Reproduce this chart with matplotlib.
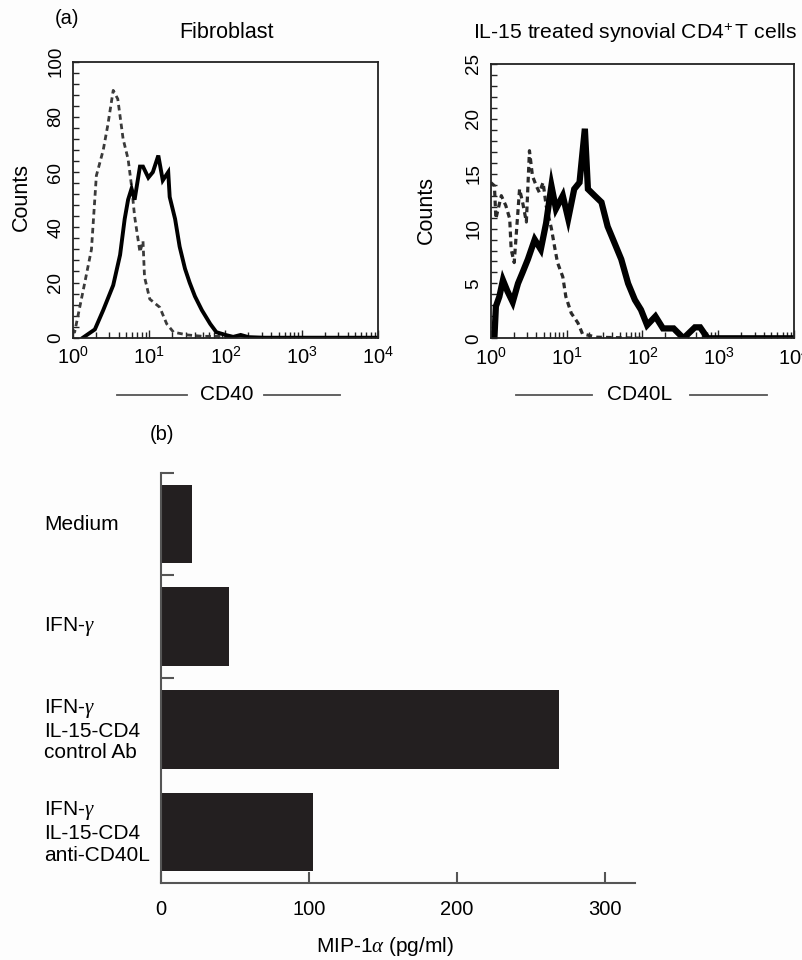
import numpy as np
import matplotlib.pyplot as plt
from matplotlib.lines import Line2D
from matplotlib.ticker import MultipleLocator, LogLocator, NullFormatter

plt.rcParams['font.family'] = ['Liberation Sans', 'DejaVu Sans']
plt.rcParams['mathtext.fontset'] = 'custom'
plt.rcParams['mathtext.rm'] = 'Liberation Sans'
plt.rcParams['mathtext.it'] = 'Liberation Serif:italic'
plt.rcParams['mathtext.bf'] = 'Liberation Sans:bold'

# (a) left: fibroblast, CD40 staining (solid) and control (dashed)
fib_cd40_x = [1.36, 1.95, 2.51, 3.39, 4.17, 4.79, 5.31, 5.89, 6.46, 7.59, 8.32, 9.77, 11.2, 13.2,
              15.1, 17.8, 18.6, 21.9, 25.1, 29.5, 33.9, 39.8, 49.0, 63.1, 75.9, 100, 126, 158, 200,
              316, 10000]
fib_cd40_counts = [0, 3, 10, 19, 30, 43, 50, 54, 50, 62, 62, 58, 60, 66,
                   57, 60, 51, 43, 33, 25, 20, 15, 10, 5, 2, 1, 0.3, 1, 0.2,
                   0, 0]
fib_ctrl_x = [1.0, 1.06, 1.44, 1.76, 2.04, 2.51, 2.88, 3.39, 3.89, 4.57, 5.31, 5.89, 6.46, 7.59,
              8.32, 8.71, 10.2, 13.8, 17.0, 20.9, 31.6, 50, 79, 126]
fib_ctrl_counts = [3, 2, 20, 32, 58.7, 68, 77, 89.6, 86.5, 72, 64.7, 55, 44, 31,
                   35, 22, 14, 11, 5, 2, 1, 0.5, 0.5, 0]

# (a) right: IL-15 treated synovial CD4+ T cells, CD40L staining (solid) and control (dashed)
tc_cd40l_x = [1.12, 1.17, 1.30, 1.45, 1.66, 1.95, 2.29, 2.63, 3.09, 3.80, 4.57, 5.37, 6.31, 7.24,
              8.91, 10.5, 12.6, 14.8, 17.4, 19.1, 23.4, 28.8, 34.7, 42.7, 52.5, 64.6, 79.4, 95.5,
              115, 148, 186, 257, 347, 490, 575, 724, 10000]
tc_cd40l_counts = [0.1, 2.9, 3.8, 5.3, 4.3, 3.3, 5, 6, 7.2, 9, 8.1, 10.5, 13.9, 11.8,
                   13, 10.9, 13.6, 14.2, 19.1, 13.6, 13, 12.4, 10.2, 8.7, 7.2, 5, 3.5, 2.6,
                   1.2, 2, 0.9, 0.9, 0, 1, 1, 0, 0]
tc_ctrl_x = [1.0, 1.12, 1.17, 1.38, 1.58, 1.78, 1.86, 2.04, 2.40, 2.63, 2.95, 3.24, 3.55, 3.98,
             4.37, 4.90, 5.37, 6.31, 6.92, 7.59, 8.91, 9.77, 11.5, 14.1, 16.2, 25, 100]
tc_ctrl_counts = [14.2, 13.9, 10.9, 13, 12.1, 10.9, 8.1, 6.9, 13.6, 12.4, 10.6, 17.1, 14.8, 13.9,
                  13.3, 14.2, 12.1, 10, 8.4, 6.9, 5.6, 3.8, 2.3, 1.4, 0.4, 0.1, 0]

# (b) MIP-1alpha production
conditions = ['Medium', r'IFN-$\gamma$', 'IFN-$\\gamma$\nIL-15-CD4\ncontrol Ab',
              'IFN-$\\gamma$\nIL-15-CD4\nanti-CD40L']
mip1a = [21, 46, 269, 103]

W, H = 803, 960
BG = '#fdfdfd'


def fx(px):
    return px / W


def fy(py):
    return 1 - py / H


def style_hist(ax, ymax, ymajor, yminor):
    ax.set_xscale('log')
    ax.set_xlim(1, 1e4)
    ax.set_ylim(0, ymax)
    ax.set_facecolor(BG)
    ax.xaxis.set_major_locator(LogLocator(base=10, numticks=10))
    ax.xaxis.set_minor_locator(LogLocator(base=10, subs=np.arange(2, 10), numticks=20))
    ax.xaxis.set_minor_formatter(NullFormatter())
    ax.yaxis.set_major_locator(MultipleLocator(ymajor))
    ax.yaxis.set_minor_locator(MultipleLocator(yminor))
    ax.tick_params(which='both', direction='in', top=False, right=False, width=1.0, color='#222')
    ax.tick_params(axis='x', which='major', length=6, labelsize=14.5, pad=6)
    ax.tick_params(axis='x', which='minor', length=4)
    ax.tick_params(axis='y', which='both', length=4, labelsize=13.5, pad=6)
    for lab in ax.get_yticklabels():
        lab.set_rotation(90)
        lab.set_va('center')
    for sp in ax.spines.values():
        sp.set_linewidth(1.3)
        sp.set_color('#222')


fig = plt.figure(figsize=(W / 100, H / 100), dpi=100, facecolor=BG)

ax1 = fig.add_axes([fx(72.7), fy(337.7), fx(378.3 - 72.7), (337.7 - 61.7) / H])
ax1.plot(fib_ctrl_x, fib_ctrl_counts, color='#3a3a3a', lw=2.0, ls=(0, (2.0, 1.4)))
ax1.plot(fib_cd40_x, fib_cd40_counts, color='black', lw=2.8, solid_joinstyle='miter')
style_hist(ax1, 100, 20, 4)

ax2 = fig.add_axes([fx(490.7), fy(338.3), fx(794.3 - 490.7), (338.3 - 64) / H])
ax2.plot(tc_ctrl_x, tc_ctrl_counts, color='#2a2a2a', lw=2.3, ls=(0, (1.8, 1.3)))
ax2.plot(tc_cd40l_x, tc_cd40l_counts, color='black', lw=4.5, solid_joinstyle='miter')
style_hist(ax2, 25, 5, 1)

fig.text(fx(66.7), fy(19), '(a)', fontsize=14.5, ha='center', va='center')
fig.text(fx(226.7), fy(33), 'Fibroblast', fontsize=15.5, ha='center', va='center')
fig.text(fx(635), fy(33), r'IL-15 treated synovial CD4$^{+}\,$T cells', fontsize=15.2,
         ha='center', va='center')
fig.text(fx(21.7), fy(197), 'Counts', fontsize=15.5, rotation=90, ha='center', va='center')
fig.text(fx(426.7), fy(210), 'Counts', fontsize=15.5, rotation=90, ha='center', va='center')

# axis labels framed by horizontal rules
for name, cx, segs in [('CD40', 226.5, [(117, 187), (264, 340)]),
                       ('CD40L', 640, [(516, 592), (690, 767)])]:
    fig.text(fx(cx), fy(395), name, fontsize=15, ha='center', va='center')
    for x0, x1 in segs:
        fig.add_artist(Line2D([fx(x0), fx(x1)], [fy(395), fy(395)], transform=fig.transFigure,
                              color='#555', lw=1.3))

# (b) bar chart
fig.text(fx(162), fy(435), '(b)', fontsize=14.5, ha='center', va='center')
ax3 = fig.add_axes([fx(160.7), fy(883.3), fx(635 - 160.7), (883.3 - 472.7) / H])
ax3.set_facecolor(BG)
ypos = np.arange(len(conditions))
ax3.barh(ypos, mip1a, height=0.767, color='#231f20')
ax3.set_xlim(0, 320)
ax3.set_ylim(len(conditions) - 0.5, -0.5)
ax3.spines['top'].set_visible(False)
ax3.spines['right'].set_visible(False)
for sp in ['left', 'bottom']:
    ax3.spines[sp].set_color('#555')
    ax3.spines[sp].set_linewidth(1.5)
ax3.set_yticks([-0.5, 0.5, 1.5])
ax3.set_yticklabels([])
ax3.tick_params(axis='y', direction='in', length=9, width=1.5, color='#555')
ax3.set_xticks([0, 100, 200, 300])
ax3.set_xticklabels(['0', '100', '200', '300'])
ax3.tick_params(axis='x', direction='in', length=8, width=1.5, color='#555', labelsize=14.5, pad=12)
for i, lab in enumerate(conditions):
    ax3.text(-0.246, i, lab, transform=ax3.get_yaxis_transform(), fontsize=15,
             ha='left', va='center', linespacing=1.15)
ax3.text(0.473, -0.154, r'MIP-1$\alpha$ (pg/ml)', transform=ax3.transAxes, fontsize=15,
         ha='center', va='center')

fig.savefig('out.png', dpi=100, facecolor=BG)
